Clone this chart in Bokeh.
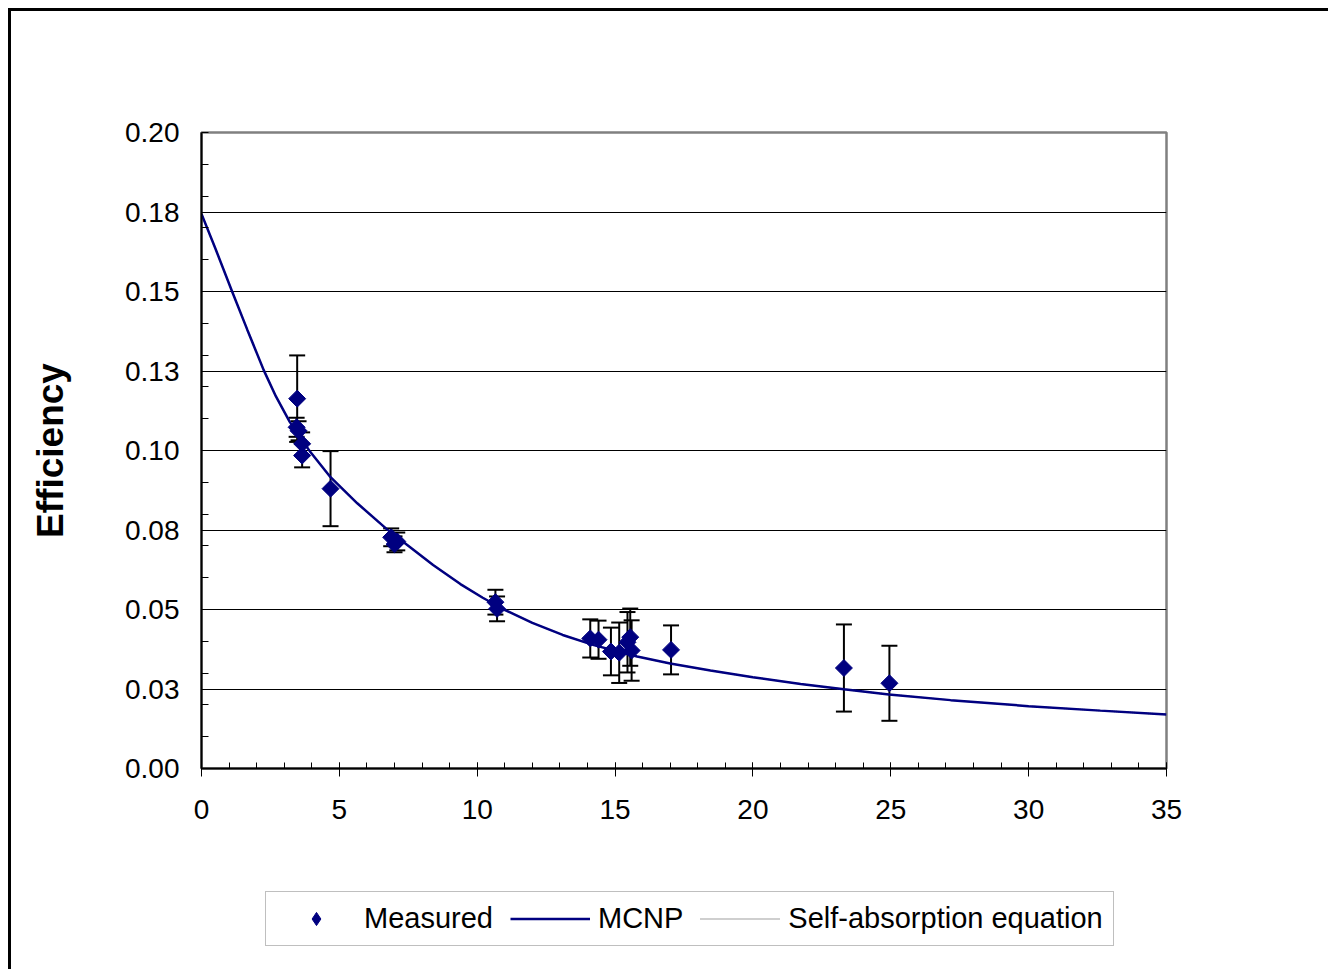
import math
from bokeh.plotting import figure
from bokeh.layouts import column
from bokeh.models import (Range1d, FixedTicker, CustomJSTickFormatter, Legend,
                          LegendItem, ColumnDataSource)
from bokeh.embed import file_html
from bokeh.resources import INLINE

# ---- data ----
meas_x = [3.45, 3.47, 3.52, 3.65, 3.65, 4.68, 6.88, 7.0, 7.1, 10.66, 10.72,
          14.1, 14.4, 14.85, 15.15, 15.45, 15.55, 15.6, 17.03, 23.3, 24.95]
meas_y = [0.1073, 0.1163, 0.1062, 0.1021, 0.0984, 0.0880, 0.0727, 0.0705, 0.0714,
          0.0523, 0.0502, 0.0409, 0.0405, 0.0368, 0.0364, 0.0397, 0.0413, 0.0371,
          0.0373, 0.0316, 0.0268]
meas_err = [0.0030, 0.0136, 0.0030, 0.0036, 0.0037, 0.0118, 0.0028, 0.0025, 0.0028,
            0.0039, 0.0039, 0.0060, 0.0060, 0.0075, 0.0095, 0.0095, 0.0090, 0.0095,
            0.0077, 0.0137, 0.0118]

mcnp_x = [0, 0.5, 1.11, 1.66, 2.26, 2.7, 3.2, 3.95, 4.68, 5.65, 6.73, 7.58, 8.4,
          9.39, 10.2, 10.97, 12.0, 13.1, 14.23, 15.8, 17.0, 18.46, 20.0, 21.73,
          23.3, 24.93, 27.17, 30.0, 32.6, 35]
mcnp_y = [0.1744, 0.1636, 0.1500, 0.1380, 0.1252, 0.1170, 0.1090, 0.0995, 0.0916,
          0.0834, 0.0752, 0.0695, 0.0640, 0.0580, 0.0537, 0.0500, 0.0458, 0.0420,
          0.0388, 0.0352, 0.0330, 0.0308, 0.0287, 0.0266, 0.0249, 0.0233, 0.0215,
          0.0196, 0.0182, 0.0170]

# self-absorption equation curve (coincides with the MCNP curve in the picture)
selfabs_x = mcnp_x
selfabs_y = mcnp_y

x_ticks = [0, 5, 10, 15, 20, 25, 30, 35]
y_ticks = [0, 0.025, 0.05, 0.075, 0.1, 0.125, 0.15, 0.175, 0.2]
y_tick_labels = ["0.00", "0.03", "0.05", "0.08", "0.10", "0.13", "0.15", "0.18", "0.20"]
y_minor = [i / 100 for i in range(0, 21)]
x_minor = list(range(0, 36))
legend_labels = ["Measured", "MCNP", "Self-absorption equation"]

FONT = "Liberation Sans"
NAVY = "#000080"
GRAY = "#808080"
W = 1317

p = figure(width=W, height=870, x_range=Range1d(0, 35), y_range=Range1d(0, 0.2),
           output_backend="svg", toolbar_location=None,
           min_border_left=190, min_border_right=162, min_border_top=121,
           min_border_bottom=113)
p.background_fill_color = "white"
p.border_fill_color = "white"
p.outline_line_color = GRAY
p.outline_line_width = 2.5

# grid
p.xgrid.visible = False
p.ygrid.ticker = FixedTicker(ticks=y_ticks)
p.ygrid.grid_line_color = "black"
p.ygrid.grid_line_width = 1

# axes
xa = p.xaxis[0]
xa.ticker = FixedTicker(ticks=x_ticks, minor_ticks=x_minor)
xa.axis_line_color = "black"
xa.axis_line_width = 2
xa.major_tick_in = 6
xa.major_tick_out = 8
xa.minor_tick_in = 6
xa.minor_tick_out = 0
xa.major_tick_line_color = "black"
xa.minor_tick_line_color = "black"
xa.major_label_text_font = FONT
xa.major_label_text_font_size = "28px"
xa.major_label_text_color = "black"
xa.major_label_standoff = 23

ya = p.yaxis[0]
ya.ticker = FixedTicker(ticks=y_ticks, minor_ticks=y_minor)
ya.formatter = CustomJSTickFormatter(args=dict(vals=y_ticks, labels=y_tick_labels), code="""
    let best = 0;
    for (let i = 0; i < vals.length; i++) {
        if (Math.abs(vals[i] - tick) < Math.abs(vals[best] - tick)) best = i;
    }
    return labels[best];
""")
ya.axis_line_color = "black"
ya.axis_line_width = 2
ya.major_tick_in = 0
ya.major_tick_out = 0
ya.minor_tick_in = 7
ya.minor_tick_out = 0
ya.minor_tick_line_color = "black"
ya.major_label_text_font = FONT
ya.major_label_text_font_size = "28px"
ya.major_label_text_color = "black"
ya.major_label_standoff = 22
ya.axis_label = "Efficiency"
ya.axis_label_text_font = FONT
ya.axis_label_text_font_style = "bold"
ya.axis_label_text_font_size = "37px"
ya.axis_label_text_color = "black"
ya.axis_label_standoff = 51

# error bars
lower = [y - e for y, e in zip(meas_y, meas_err)]
upper = [y + e for y, e in zip(meas_y, meas_err)]
src = ColumnDataSource(dict(x=meas_x, y=meas_y, lo=lower, hi=upper))
p.segment(x0="x", y0="lo", x1="x", y1="hi", source=src, line_color="black", line_width=2)
p.scatter(x="x", y="lo", source=src, marker="dash", size=16, line_color="black", line_width=2)
p.scatter(x="x", y="hi", source=src, marker="dash", size=16, line_color="black", line_width=2)

# curves
p.line(selfabs_x, selfabs_y, line_color=GRAY, line_width=1.5, line_dash="1 1")
p.line(mcnp_x, mcnp_y, line_color=NAVY, line_width=2.5)

# measured markers
p.scatter(x="x", y="y", source=src, marker="square", angle=math.pi / 4,
          size=12, fill_color=NAVY, line_color=NAVY)

# ---- legend strip (separate figure so the legend is not clipped) ----
lg = figure(width=W, height=88, x_range=Range1d(0, 1), y_range=Range1d(0, 1),
            output_backend="svg", toolbar_location=None,
            x_axis_location=None, y_axis_location=None,
            min_border_left=0, min_border_right=0, min_border_top=0, min_border_bottom=0)
lg.grid.visible = False
lg.outline_line_color = None
lg.background_fill_color = "white"
lg.border_fill_color = "white"
lr_meas = lg.scatter(x=[-5], y=[-5], marker="diamond", size=19,
                     fill_color=NAVY, line_color=NAVY)
lr_mcnp = lg.line(x=[-5, -4], y=[-5, -5], line_color=NAVY, line_width=2.5)
lr_self = lg.line(x=[-5, -4], y=[-5, -5], line_color=GRAY, line_width=1.5, line_dash="1 1")

legend = Legend(items=[LegendItem(label=legend_labels[0], renderers=[lr_meas]),
                       LegendItem(label=legend_labels[1], renderers=[lr_mcnp]),
                       LegendItem(label=legend_labels[2], renderers=[lr_self])],
                orientation="horizontal", location=(64, 23))
legend.label_text_font = FONT
legend.label_text_font_size = "29px"
legend.label_text_color = "black"
legend.glyph_width = 80
legend.glyph_height = 33
legend.label_height = 33
legend.label_standoff = 8
legend.spacing = 17
legend.padding = 10
legend.margin = 0
legend.border_line_color = GRAY
legend.border_line_width = 1.5
legend.background_fill_color = "white"
legend.background_fill_alpha = 1
lg.add_layout(legend)

layout = column(p, lg, spacing=0)
layout.styles = {"margin-left": "8px", "margin-top": "8px",
                 "border-left": "3px solid black", "border-top": "3px solid black"}

open("out.html", "w").write(file_html(layout, INLINE))
